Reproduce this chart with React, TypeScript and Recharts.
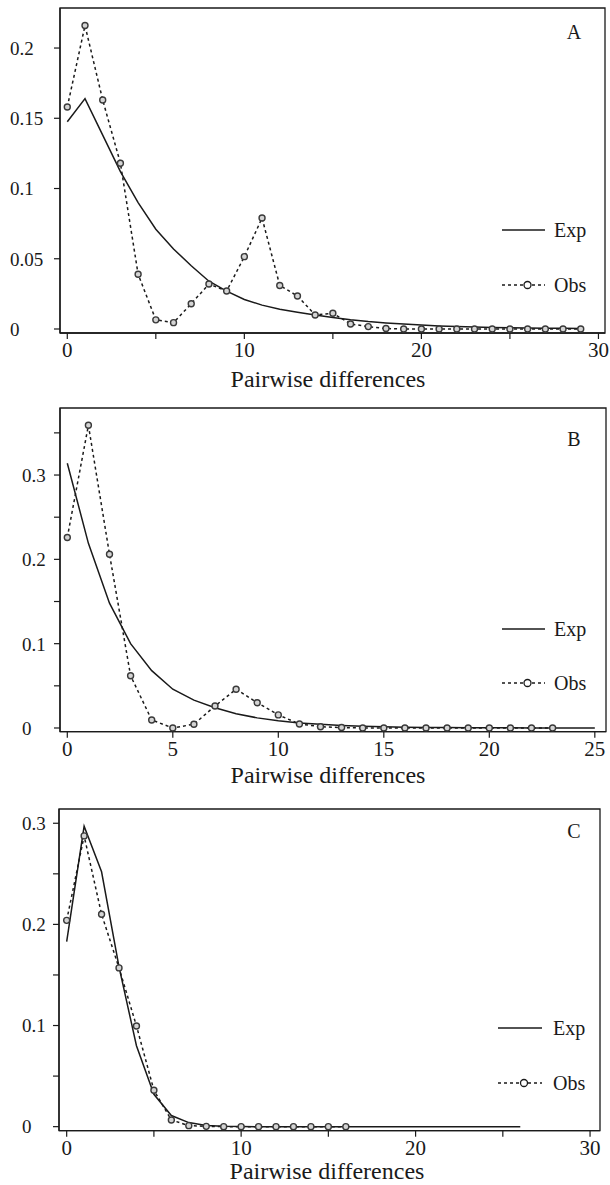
import React from 'react';
import { LineChart, Line, XAxis, YAxis, ReferenceArea, Legend } from 'recharts';

// ---------- data ----------
const X_TITLE = 'Pairwise differences';
const SERIES_NAMES = ['Exp', 'Obs'];
const PANEL_LETTERS = ['A', 'B', 'C'];

const EXP_A = [0.1475, 0.164, 0.138, 0.112, 0.09, 0.071, 0.057, 0.045, 0.034, 0.027, 0.021, 0.017, 0.014, 0.012, 0.01, 0.0082, 0.0066, 0.0053, 0.0043, 0.0035, 0.0028, 0.0022, 0.0018, 0.0014, 0.0011, 0.0009, 0.0007, 0.0006, 0.0005, 0.0004];
const OBS_A = [0.158, 0.216, 0.163, 0.118, 0.039, 0.0065, 0.0045, 0.018, 0.032, 0.027, 0.0515, 0.079, 0.031, 0.0235, 0.01, 0.0112, 0.0036, 0.0017, 0.0003, 0, 0, 0, 0, 0, 0, 0, 0, 0, 0, 0];

const EXP_B = [0.314, 0.219, 0.148, 0.1, 0.068, 0.046, 0.033, 0.024, 0.017, 0.012, 0.0085, 0.006, 0.0043, 0.003, 0.0021, 0.0015, 0.001, 0.0007, 0.0005, 0.0004, 0.0003, 0.0002, 0.0001, 0.0001, 0, 0];
const OBS_B = [0.226, 0.359, 0.206, 0.062, 0.0095, 0, 0.0045, 0.026, 0.046, 0.03, 0.0155, 0.0048, 0.0015, 0.0005, 0, 0, 0, 0, 0, 0, 0, 0, 0, 0];

const EXP_C = [0.183, 0.297, 0.252, 0.158, 0.08, 0.032, 0.011, 0.004, 0.0012, 0.0004, 0.0001, 0, 0, 0, 0, 0, 0, 0, 0, 0, 0, 0, 0, 0, 0, 0, 0];
const OBS_C = [0.204, 0.2875, 0.21, 0.157, 0.0996, 0.036, 0.0066, 0.001, 0.0003, 0, 0, 0, 0, 0, 0, 0, 0];

const X_TICKS_A = [0, 5, 10, 15, 20, 25, 30];
const X_LABELS_A = [0, 10, 20, 30];
const Y_TICKS_A = [0, 0.05, 0.1, 0.15, 0.2];
const Y_LABELS_A = ['0', '0.05', '0.1', '0.15', '0.2'];

const X_TICKS_B = [0, 5, 10, 15, 20, 25];
const X_LABELS_B = [0, 5, 10, 15, 20, 25];
const Y_TICKS_B = [0, 0.05, 0.1, 0.15, 0.2, 0.25, 0.3, 0.35];
const Y_LABELS_B = ['0', '', '0.1', '', '0.2', '', '0.3', ''];

const X_TICKS_C = [0, 5, 10, 15, 20, 25, 30];
const X_LABELS_C = [0, 10, 20, 30];
const Y_TICKS_C = [0, 0.05, 0.1, 0.15, 0.2, 0.25, 0.3];
const Y_LABELS_C = ['0', '', '0.1', '', '0.2', '', '0.3'];

// ---------- layout ----------
const FONT = '"Liberation Serif", "Times New Roman", serif';
const INK = '#1a1a1a';

function buildRows(exp: number[], obs: number[]) {
  const n = Math.max(exp.length, obs.length);
  const rows: { x: number; exp?: number; obs?: number }[] = [];
  for (let i = 0; i < n; i++) rows.push({ x: i, exp: exp[i], obs: obs[i] });
  return rows;
}

const PANELS = [
  {
    letter: PANEL_LETTERS[0], exp: EXP_A, obs: OBS_A,
    xTicks: X_TICKS_A, xLabels: X_LABELS_A, yTicks: Y_TICKS_A, yLabels: Y_LABELS_A,
    top: 0, height: 395, box: { left: 60, right: 605, top: 8, bottom: 333 },
    xDomain: [-0.412, 30.37], yDomain: [-0.00285, 0.2285], yLabelX: 10,
    legend: { x0: 502, x1: 545, tx: 554, expY: 230, obsY: 285 }, letterPos: { x: 574, y: 39 },
    titleY: 387, titleX: 328,
  },
  {
    letter: PANEL_LETTERS[1], exp: EXP_B, obs: OBS_B,
    xTicks: X_TICKS_B, xLabels: X_LABELS_B, yTicks: Y_TICKS_B, yLabels: Y_LABELS_B,
    top: 395, height: 400, box: { left: 60, right: 606, top: 408, bottom: 731.7 },
    xDomain: [-0.346, 25.53], yDomain: [-0.0044, 0.3795], yLabelX: 22,
    legend: { x0: 502, x1: 545, tx: 554, expY: 629, obsY: 683 }, letterPos: { x: 574, y: 446 },
    titleY: 783, titleX: 328,
  },
  {
    letter: PANEL_LETTERS[2], exp: EXP_C, obs: OBS_C,
    xTicks: X_TICKS_C, xLabels: X_LABELS_C, yTicks: Y_TICKS_C, yLabels: Y_LABELS_C,
    top: 795, height: 390, box: { left: 59, right: 600, top: 809, bottom: 1130.7 },
    xDomain: [-0.44, 30.57], yDomain: [-0.004, 0.3141], yLabelX: 22,
    legend: { x0: 498, x1: 542, tx: 553, expY: 1028, obsY: 1083 }, letterPos: { x: 574, y: 838 },
    titleY: 1179, titleX: 327,
  },
];

function Panel({ p }: { p: (typeof PANELS)[number] }) {
  const rows = buildRows(p.exp, p.obs);
  const marginTop = p.box.top - p.top;
  const plotBottom = p.box.bottom - p.top;
  const xAxisHeight = p.height - plotBottom;

  const yTick = (props: any) => {
    const idx = p.yTicks.indexOf(props.payload.value);
    const txt = idx >= 0 ? p.yLabels[idx] : '';
    return (
      <text x={p.yLabelX} y={props.y} dy="0.36em" textAnchor="start" fontSize={19} fontFamily={FONT} fill={INK}>
        {txt}
      </text>
    );
  };
  const xTick = (props: any) => {
    const v = props.payload.value;
    const show = p.xLabels.indexOf(v) >= 0;
    return (
      <text x={props.x} y={plotBottom + 24} textAnchor="middle" fontSize={21} fontFamily={FONT} fill={INK}>
        {show ? String(v) : ''}
      </text>
    );
  };

  const L = p.legend;
  const overlay = () => (
    <svg width={610} height={p.height} style={{ position: 'absolute', left: 0, top: 0 }}>
      <g fontFamily={FONT} fill={INK}>
        <text x={p.letterPos.x} y={p.letterPos.y - p.top} textAnchor="middle" fontSize={20}>{p.letter}</text>
        <line x1={L.x0} x2={L.x1} y1={L.expY - p.top} y2={L.expY - p.top} stroke={INK} strokeWidth={1.5} />
        <text x={L.tx} y={L.expY - p.top} dy="0.34em" fontSize={20}>{SERIES_NAMES[0]}</text>
        <line x1={L.x0} x2={L.x1} y1={L.obsY - p.top} y2={L.obsY - p.top} stroke={INK} strokeWidth={1.5} strokeDasharray="3 3" />
        <circle cx={(L.x0 + L.x1) / 2 + 4} cy={L.obsY - p.top} r={3.5} fill="#fff" stroke={INK} strokeWidth={1.3} />
        <text x={L.tx} y={L.obsY - p.top} dy="0.34em" fontSize={20}>{SERIES_NAMES[1]}</text>
        <text x={p.titleX} y={p.titleY - p.top} textAnchor="middle" fontSize={24}>{X_TITLE}</text>
      </g>
    </svg>
  );

  return (
    <div style={{ position: 'absolute', left: 0, top: p.top, width: 610, height: p.height }}>
      <LineChart
        width={610}
        height={p.height}
        data={rows}
        margin={{ top: marginTop, right: 610 - p.box.right, left: 0, bottom: 0 }}
      >
        <XAxis
          type="number"
          dataKey="x"
          domain={p.xDomain}
          ticks={p.xTicks}
          interval={0}
          allowDataOverflow
          height={xAxisHeight}
          tick={xTick}
          tickSize={6}
          axisLine={{ stroke: INK, strokeWidth: 1.3 }}
          tickLine={{ stroke: INK, strokeWidth: 1.2 }}
        />
        <YAxis
          type="number"
          domain={p.yDomain}
          ticks={p.yTicks}
          interval={0}
          allowDataOverflow
          width={p.box.left}
          tick={yTick}
          tickSize={6}
          axisLine={{ stroke: INK, strokeWidth: 1.3 }}
          tickLine={{ stroke: INK, strokeWidth: 1.2 }}
        />
        <ReferenceArea
          x1={p.xDomain[0]}
          x2={p.xDomain[1]}
          y1={p.yDomain[0]}
          y2={p.yDomain[1]}
          fill="none"
          fillOpacity={0}
          stroke={INK}
          strokeWidth={1.3}
          ifOverflow="visible"
        />
        <Line
          type="linear"
          dataKey="exp"
          name={SERIES_NAMES[0]}
          stroke={INK}
          strokeWidth={1.5}
          dot={false}
          isAnimationActive={false}
        />
        <Line
          type="linear"
          dataKey="obs"
          name={SERIES_NAMES[1]}
          stroke={INK}
          strokeWidth={1.5}
          strokeDasharray="3 3"
          dot={{ r: 3, fill: '#d4d4d4', stroke: '#3a3a3a', strokeWidth: 1.4, strokeDasharray: '' }}
          isAnimationActive={false}
        />
        <Legend
          layout="vertical"
          align="center"
          verticalAlign="middle"
          content={overlay}
          wrapperStyle={{ position: 'absolute', left: 0, top: 0, width: 610, height: p.height, pointerEvents: 'none' }}
        />
      </LineChart>
    </div>
  );
}

export default function App() {
  return (
    <div style={{ position: 'absolute', left: 0, top: 0, width: 610, height: 1185, background: '#fff' }}>
      {PANELS.map((p) => (
        <Panel key={p.letter} p={p} />
      ))}
    </div>
  );
}
